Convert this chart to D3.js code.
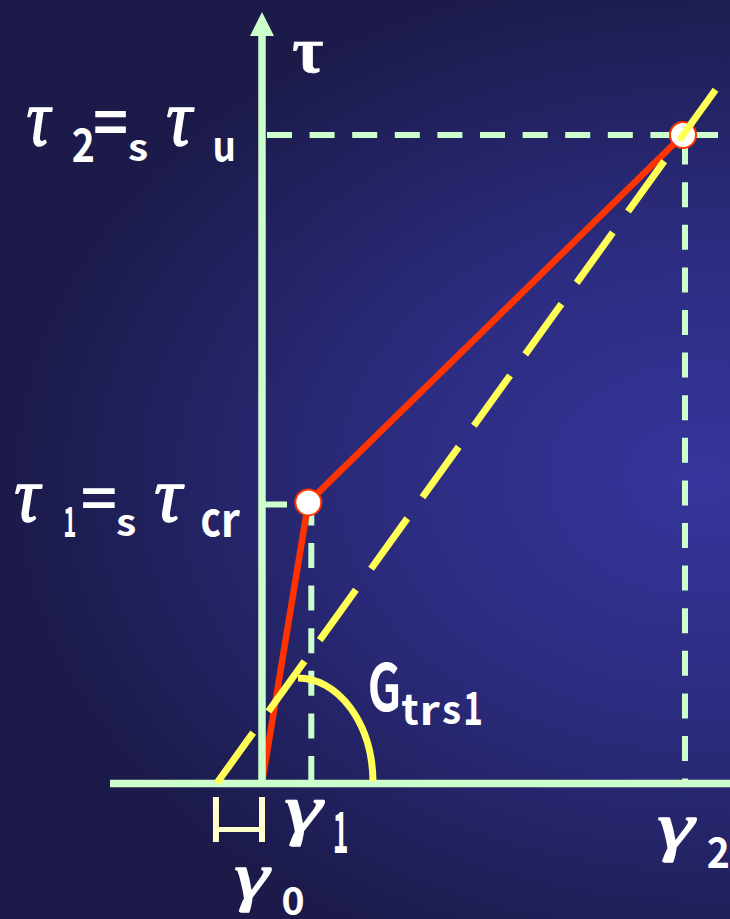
<!DOCTYPE html>
<html>
<head>
<meta charset="utf-8">
<script src="https://cdn.jsdelivr.net/npm/d3@7"></script>
<style>
  html, body { margin: 0; padding: 0; background: #1c1b4c; }
  svg { display: block; }
</style>
</head>
<body>
<svg id="chart" width="730" height="919"></svg>
<script>
// Bilinear shear stress–strain idealisation with the secant (transformed) shear modulus.
// Strain values (γ) and stress values (τ) in normalised units.
const gammaNames = ["γ0", "γ1", "γ2"];
const gammaValues = [-0.107, 0.11, 1.0];
const tauNames = ["τ1", "τ2"];
const tauValues = [0.433, 1.0];

// Bilinear curve: origin → (γ1, τ1) → (γ2, τ2)
const curveGamma = [0, 0.11, 1.0];
const curveTau = [0, 0.433, 1.0];

// Axis extents
const axisGamma = [-0.36, 1.12];
const axisTau = [0, 1.19];

// Where the secant line stops on the strain axis
const secantEnd = 1.08;

const svg = d3.select("#chart");
const W = 730, H = 919;

const x = d3.scaleLinear().domain([0, 1]).range([262, 683]);
const y = d3.scaleLinear().domain([0, 1]).range([783, 135]);

const [g0, g1, g2] = gammaValues;
const [t1, t2] = tauValues;

// ---- background ----
const defs = svg.append("defs");
const rg = defs.append("radialGradient")
  .attr("id", "bg")
  .attr("gradientUnits", "userSpaceOnUse")
  .attr("cx", 0).attr("cy", 0).attr("r", 1)
  .attr("gradientTransform", "translate(705,480) scale(700,520)");
rg.append("stop").attr("offset", 0).attr("stop-color", "#35359c");
rg.append("stop").attr("offset", 0.45).attr("stop-color", "#2c2c80");
rg.append("stop").attr("offset", 1).attr("stop-color", "#1b1a49");
svg.append("rect").attr("width", W).attr("height", H).attr("fill", "url(#bg)");

const GREEN = "#ccffcc", RED = "#ff3300", YELLOW = "#ffff55", PALE = "#ffffcc";
const guideDash = "25,17.6";

// ---- guide lines ----
const guides = svg.append("g").attr("stroke", GREEN).attr("stroke-width", 6)
  .attr("stroke-dasharray", guideDash).attr("fill", "none");
// τ2 horizontal
guides.append("line")
  .attr("x1", x(0)).attr("x2", W).attr("y1", y(t2)).attr("y2", y(t2))
  .attr("stroke-dashoffset", 37.6);
// τ1 horizontal
guides.append("line")
  .attr("x1", x(0)).attr("x2", x(g1)).attr("y1", y(t1) + 2).attr("y2", y(t1) + 2);
// γ1 vertical
guides.append("line")
  .attr("x1", x(g1) + 3).attr("x2", x(g1) + 3).attr("y1", y(t1)).attr("y2", y(0))
  .attr("stroke-dashoffset", 2);
// γ2 vertical
guides.append("line")
  .attr("x1", x(g2) + 2).attr("x2", x(g2) + 2).attr("y1", y(t2)).attr("y2", y(0))
  .attr("stroke-dashoffset", 38);

// ---- bilinear curve ----
const curve = d3.range(curveGamma.length).map(i => [curveGamma[i], curveTau[i]]);
svg.append("path")
  .datum(curve)
  .attr("d", d3.line().x(d => x(d[0])).y(d => y(d[1])))
  .attr("fill", "none").attr("stroke", RED).attr("stroke-width", 6.5)
  .attr("stroke-linejoin", "round");

// ---- axes ----
const axes = svg.append("g").attr("stroke", GREEN).attr("stroke-width", 7.5);
axes.append("line")
  .attr("x1", 110).attr("x2", W)
  .attr("y1", y(0) + 0.5).attr("y2", y(0) + 0.5);
axes.append("line")
  .attr("x1", x(0)).attr("x2", x(0))
  .attr("y1", y(0) + 4).attr("y2", y(axisTau[1]) + 20);
svg.append("path")
  .attr("d", `M${x(0) - 12},${y(axisTau[1]) + 24} L${x(0)},${y(axisTau[1])} L${x(0) + 12},${y(axisTau[1]) + 24} Z`)
  .attr("fill", GREEN);

// ---- yield points ----
svg.selectAll("circle.pt")
  .data(curve.slice(1))
  .join("circle")
  .attr("class", "pt")
  .attr("cx", d => x(d[0])).attr("cy", d => y(d[1]))
  .attr("r", 13)
  .attr("fill", "#ffffff").attr("stroke", RED).attr("stroke-width", 2);

// ---- secant line through (γ0, 0) and (γ2, τ2) ----
const secantTau = g => t2 * (g - g0) / (g2 - g0);
svg.append("line")
  .attr("x1", x(g0)).attr("y1", y(0))
  .attr("x2", x(secantEnd)).attr("y2", y(secantTau(secantEnd)))
  .attr("stroke", YELLOW).attr("stroke-width", 7)
  .attr("stroke-dasharray", "62,26");

// ---- angle mark for the secant modulus ----
const arcCx = x(0) + 36, arcCy = y(0), arcRx = 75, arcRy = 105;
svg.append("path")
  .attr("d", `M${arcCx},${arcCy - arcRy} A${arcRx},${arcRy} 0 0 1 ${arcCx + arcRx},${arcCy - 2}`)
  .attr("fill", "none").attr("stroke", YELLOW).attr("stroke-width", 7);

// ---- γ0 offset bracket ----
const br = svg.append("g").attr("stroke", PALE);
br.append("line").attr("x1", x(g0) - 1).attr("x2", x(g0) - 1).attr("y1", 797).attr("y2", 842).attr("stroke-width", 6);
br.append("line").attr("x1", x(0)).attr("x2", x(0)).attr("y1", 797).attr("y2", 842).attr("stroke-width", 6);
br.append("line").attr("x1", x(g0) - 1).attr("x2", x(0)).attr("y1", 829.5).attr("y2", 829.5).attr("stroke-width", 5);

// ---- text: fitted to ink boxes measured with canvas ----
const ctx = document.createElement("canvas").getContext("2d");
const SANS = { family: "'Noto Sans CJK JP', 'Noto Sans', sans-serif", style: "normal", weight: "bold", stroke: 0 };
const GREEK_IT = { family: "'Liberation Serif', serif", style: "italic", weight: "normal", stroke: 1.6 };
const GREEK_UP = { family: "'Liberation Serif', serif", style: "normal", weight: "bold", stroke: 0.6 };

function fitText(str, font, box, fill) {
  const [x0, y0, x1, y1] = box;
  ctx.font = `${font.style} ${font.weight} 200px ${font.family}`;
  const m = ctx.measureText(str);
  const asc = m.actualBoundingBoxAscent, desc = m.actualBoundingBoxDescent;
  const L = m.actualBoundingBoxLeft, R = m.actualBoundingBoxRight;
  const s = font.stroke || 0;
  const k = (y1 - y0 - s) / (asc + desc);
  const sx = (x1 - x0 - s) / ((L + R) * k);
  const tx = x0 + s / 2 + L * k * sx, ty = y0 + s / 2 + asc * k;
  const t = svg.append("text")
    .attr("transform", `translate(${tx},${ty}) scale(${sx},1)`)
    .attr("font-family", font.family)
    .attr("font-style", font.style)
    .attr("font-weight", font.weight)
    .attr("font-size", 200 * k)
    .attr("fill", fill || "#ffffff")
    .text(str);
  if (s) t.attr("stroke", fill || "#ffffff").attr("stroke-width", s).attr("stroke-linejoin", "round");
}

// axis title
fitText("τ", GREEK_UP, [293, 42, 323, 73]);

// τ2 = sτu
fitText("τ", GREEK_IT, [27, 108, 53, 147]);
fitText("2", SANS, [73, 128, 93, 162]);
fitText("=", SANS, [95, 111, 126, 133]);
fitText("s", SANS, [129, 140, 147, 162]);
fitText("τ", GREEK_IT, [167, 108, 195, 147]);
fitText("u", SANS, [215, 138, 233, 162]);

// τ1 = sτcr
fitText("τ", GREEK_IT, [15, 485, 43, 523]);
fitText("1", SANS, [65, 507, 75, 537]);
fitText("=", SANS, [83, 488, 115, 508]);
fitText("s", SANS, [117, 515, 135, 537]);
fitText("τ", GREEK_IT, [155, 485, 185, 523]);
fitText("c", SANS, [202, 510, 220, 537]);
fitText("r", SANS, [224, 510, 240, 537]);

// secant modulus label
fitText("G", SANS, [370, 662, 398, 712]);
fitText("t", SANS, [402, 695, 418, 725]);
fitText("r", SANS, [423, 702, 440, 725]);
fitText("s", SANS, [443, 702, 460, 725]);
fitText("1", SANS, [466, 692, 481, 725]);

// strain labels
fitText("γ", GREEK_IT, [285, 800, 325, 847]);
fitText("1", SANS, [335, 812, 347, 853]);
fitText("γ", GREEK_IT, [235, 867, 272, 912]);
fitText("0", SANS, [283, 887, 303, 916]);
fitText("γ", GREEK_IT, [658, 817, 697, 863]);
fitText("2", SANS, [708, 837, 728, 868]);
</script>
</body>
</html>
